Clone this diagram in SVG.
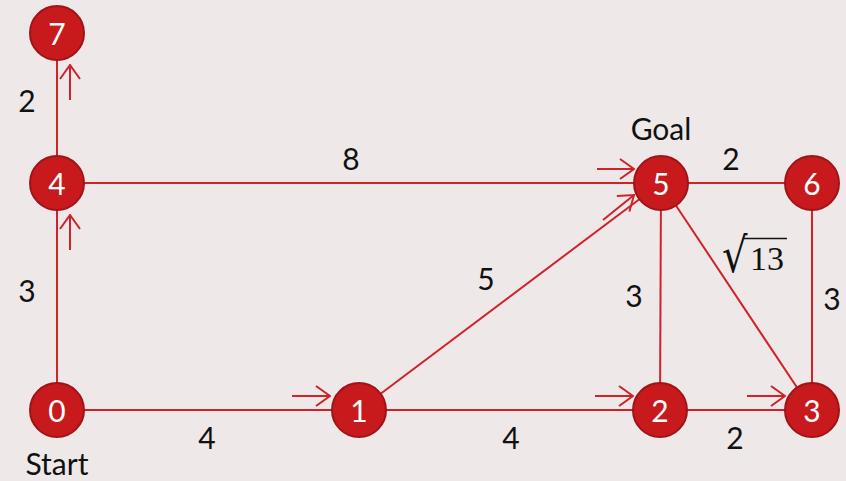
<svg xmlns="http://www.w3.org/2000/svg" width="846" height="481" viewBox="0 0 846 481">
  <defs>
    <style>
      .edge { stroke: #d0222a; stroke-width: 2; fill: none; }
      .dir { stroke: #d0222a; stroke-width: 2; fill: none; marker-end: url(#open); }
      .node circle { fill: #c8191c; stroke: #a01418; stroke-width: 2; }
      .node text { fill: #ffffff; font-family: Lato, "Open Sans", sans-serif; font-size: 30px; text-anchor: middle; dominant-baseline: central; }
      .lbl { fill: #111111; font-family: Lato, "Open Sans", sans-serif; font-size: 30px; text-anchor: middle; dominant-baseline: central; }
      .math { fill: #111111; font-family: "Liberation Serif", "DejaVu Serif", serif; font-size: 34px; }
      .rad { fill: #111111; font-family: "DejaVu Serif", serif; font-size: 32px; }
    </style>
    <marker id="open" viewBox="0 0 16 22" refX="15" refY="11" markerWidth="16" markerHeight="22" markerUnits="userSpaceOnUse" orient="auto">
      <path d="M1 1 L15 11 L1 21" fill="none" stroke="#d0222a" stroke-width="2"/>
    </marker>
  </defs>
  <rect width="846" height="481" fill="#eee8e8"/>

  <g id="connectors">
    <line class="edge" x1="57" y1="33" x2="57" y2="183"/>
    <line class="edge" x1="57" y1="183" x2="57" y2="410"/>
    <line class="edge" x1="57" y1="410" x2="359" y2="410"/>
    <line class="edge" x1="359" y1="410" x2="660" y2="410"/>
    <line class="edge" x1="660" y1="410" x2="812" y2="410"/>
    <line class="edge" x1="57" y1="183" x2="661" y2="183"/>
    <line class="edge" x1="661" y1="183" x2="812" y2="183"/>
    <line class="edge" x1="359" y1="410" x2="661" y2="183"/>
    <line class="edge" x1="661" y1="183" x2="660" y2="410"/>
    <line class="edge" x1="661" y1="183" x2="812" y2="410"/>
    <line class="edge" x1="812" y1="183" x2="812" y2="410"/>
    <!-- direction arrows along the search path -->
    <line class="dir" x1="70" y1="100" x2="70" y2="65"/>
    <line class="dir" x1="70" y1="250" x2="70" y2="215"/>
    <line class="dir" x1="292" y1="396" x2="330" y2="396"/>
    <line class="dir" x1="595" y1="396" x2="633" y2="396"/>
    <line class="dir" x1="747" y1="396" x2="785" y2="396"/>
    <line class="dir" x1="597" y1="169" x2="634" y2="169"/>
    <line class="dir" x1="603" y1="220" x2="634" y2="195"/>
  </g>

  <g id="n7" class="node"><circle cx="57" cy="33" r="27"/><text x="57" y="33">7</text></g>
  <g id="n4" class="node"><circle cx="57" cy="183" r="27"/><text x="57" y="183">4</text></g>
  <g id="n0" class="node"><circle cx="57" cy="410" r="27"/><text x="57" y="410">0</text></g>
  <g id="n1" class="node"><circle cx="359" cy="410" r="27"/><text x="359" y="410">1</text></g>
  <g id="n2" class="node"><circle cx="660" cy="410" r="27"/><text x="660" y="410">2</text></g>
  <g id="n3" class="node"><circle cx="812" cy="410" r="27"/><text x="812" y="410">3</text></g>
  <g id="n5" class="node"><circle cx="661" cy="183" r="27"/><text x="661" y="183">5</text></g>
  <g id="n6" class="node"><circle cx="812" cy="183" r="27"/><text x="812" y="183">6</text></g>

  <g id="labels">
    <text class="lbl" x="27" y="100">2</text>
    <text class="lbl" x="27" y="290">3</text>
    <text class="lbl" x="351" y="158">8</text>
    <text class="lbl" x="661" y="128">Goal</text>
    <text class="lbl" x="731" y="158">2</text>
    <text class="lbl" x="486" y="278">5</text>
    <text class="lbl" x="634" y="295">3</text>
    <text class="lbl" x="832" y="298">3</text>
    <text class="lbl" x="207" y="437">4</text>
    <text class="lbl" x="511" y="437">4</text>
    <text class="lbl" x="735" y="437">2</text>
    <text class="lbl" x="57" y="463">Start</text>
    <!-- square root of 13: stretched radical plus vinculum -->
    <text class="rad" transform="translate(722,272) scale(1.25,1.5)">√</text>
    <line x1="744" y1="238.5" x2="787" y2="238.5" stroke="#111111" stroke-width="1.5"/>
    <text class="math" x="750" y="270">13</text>
  </g>
</svg>
